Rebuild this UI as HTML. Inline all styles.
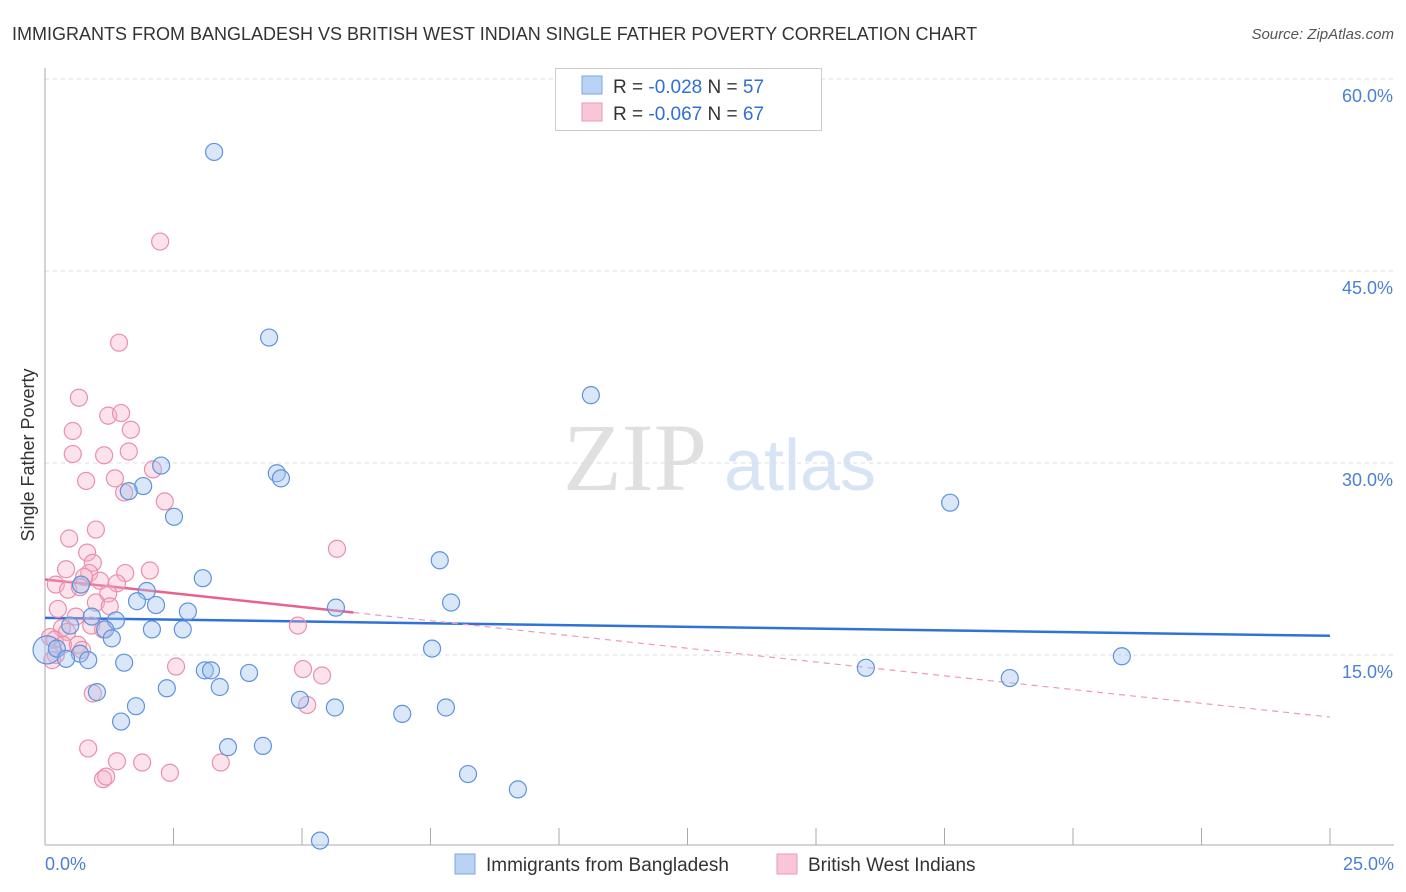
<!DOCTYPE html>
<html><head><meta charset="utf-8"><style>
body{margin:0;background:#fff;font-family:"Liberation Sans",sans-serif;}
svg{display:block}
</style></head><body>
<svg width="1406" height="892" xmlns="http://www.w3.org/2000/svg">
<text x="12" y="40" font-size="18" fill="#333">IMMIGRANTS FROM BANGLADESH VS BRITISH WEST INDIAN SINGLE FATHER POVERTY CORRELATION CHART</text>
<text x="1394" y="39" font-size="15" fill="#555" font-style="italic" text-anchor="end">Source: ZipAtlas.com</text>
<g>
<text x="635" y="490" font-size="96" fill="#e0e0e0" text-anchor="middle" font-family="Liberation Serif,serif">ZIP</text>
<text x="800" y="490" font-size="72" fill="#d6e4f5" text-anchor="middle">atlas</text>
</g>
<g id="grid"></g>
<g id="axes"></g>
<g id="trend"></g>
<g id="points"></g>
<text transform="translate(34,455) rotate(-90)" font-size="18" fill="#333" text-anchor="middle">Single Father Poverty</text>
<text x="45" y="870" font-size="18" fill="#4a7fd6">0.0%</text>
<text x="1394" y="870" font-size="18" fill="#4a7fd6" text-anchor="end">25.0%</text>
<g>
<rect x="555.5" y="68.5" width="266" height="62" fill="#fff" stroke="#ccc"/>
<rect x="582" y="76" width="20" height="18" fill="#b9d3f5" stroke="#7aa7e6"/>
<rect x="582" y="103" width="20" height="18" fill="#f9c6d6" stroke="#eb9bb5"/>
<text x="613" y="93" font-size="19" fill="#333">R = <tspan fill="#2f6fd6">-0.028</tspan>   N = <tspan fill="#2f6fd6">57</tspan></text>
<text x="613" y="120" font-size="19" fill="#333">R = <tspan fill="#2f6fd6">-0.067</tspan>   N = <tspan fill="#2f6fd6">67</tspan></text>
</g>
<g>
<rect x="455" y="854" width="20" height="20" fill="#b9d3f5" stroke="#7aa7e6"/>
<text x="486" y="871" font-size="19" fill="#333">Immigrants from Bangladesh</text>
<rect x="777" y="854" width="20" height="20" fill="#f9c6d6" stroke="#eb9bb5"/>
<text x="808" y="871" font-size="19" fill="#333">British West Indians</text>
</g>
</svg>
<script>
const yTicks=[15,30,45,60];
const yTickLabels=["15.0%","30.0%","45.0%","60.0%"];
const xTicks=[0,2.5,5,7.5,10,12.5,15,17.5,20,22.5,25];
const blueX=[3.29,4.36,10.62,4.51,4.59,2.26,1.91,1.63,2.51,17.61,7.68,3.07,0.70,1.98,1.79,2.16,7.90,5.66,2.78,1.38,0.91,0.49,2.08,2.68,1.17,1.30,7.53,0.04,0.23,0.68,0.84,0.41,1.54,15.97,20.95,18.77,3.11,3.23,3.97,3.40,2.37,1.01,4.96,1.77,5.64,7.80,6.95,1.48,3.56,4.24,8.23,9.20,5.35];
const blueY=[54.3,39.8,35.3,29.2,28.8,29.8,28.2,27.8,25.8,26.9,22.4,21.0,20.5,20.0,19.2,18.9,19.1,18.7,18.4,17.7,18.0,17.3,17.0,17.0,17.0,16.3,15.5,15.4,15.5,15.1,14.6,14.7,14.4,14.0,14.9,13.2,13.8,13.8,13.6,12.5,12.4,12.1,11.5,11.0,10.9,10.9,10.4,9.8,7.8,7.9,5.7,4.5,0.5];
const pinkX=[2.24,1.44,0.66,1.23,1.48,0.54,1.67,1.15,0.54,1.63,2.10,0.80,1.36,1.54,2.33,0.99,0.47,5.68,0.82,0.93,0.41,2.04,1.56,0.86,0.76,1.40,0.21,1.07,0.45,0.68,1.23,0.99,1.26,0.25,0.60,0.90,0.33,0.43,1.13,4.92,0.10,0.19,0.35,0.64,0.72,0.21,0.14,2.55,5.02,5.39,0.93,5.10,0.84,1.40,1.89,2.43,3.42,1.13,1.19];
const pinkY=[47.3,39.4,35.1,33.7,33.9,32.5,32.6,30.6,30.7,30.9,29.5,28.6,28.8,27.7,27.0,24.8,24.1,23.3,23.0,22.2,21.7,21.6,21.4,21.4,21.1,20.6,20.5,20.8,20.1,20.3,19.8,19.1,18.8,18.6,18.0,17.3,17.1,16.8,17.0,17.3,16.4,16.2,15.8,15.8,15.4,15.0,14.6,14.1,13.9,13.4,12.0,11.1,7.7,6.7,6.6,5.8,6.6,5.3,5.5];
const blueTrend=[17.9,-0.056];
const pinkTrend=[20.9,-0.43];
const pinkSolidEnd=6.0;
const NS="http://www.w3.org/2000/svg";
const X0=45,X1=1330,Y0=847;
function sx(v){return X0+(X1-X0)*v/25;}
function sy(v){return Y0-12.8*v;}
function mk(tag,attrs,parent){const e=document.createElementNS(NS,tag);for(const k in attrs)e.setAttribute(k,attrs[k]);document.getElementById(parent).appendChild(e);return e;}
yTicks.forEach((t,i)=>{
 const l=mk('line',{x1:X0,x2:1394,y1:sy(t),y2:sy(t),stroke:'#ddd','stroke-dasharray':'4,4'},'grid');
 
 
 const tx=mk('text',{x:1393,y:sy(t)+23,'font-size':18,fill:'#4a7fd6','text-anchor':'end'},'grid');
 tx.textContent=yTickLabels[i];
 
 
});
const ya=mk('line',{x1:X0,x2:X0,y1:68,y2:845,stroke:'#aaa'},'axes');


const xa=mk('line',{x1:X0,x2:1394,y1:845,y2:845,stroke:'#aaa'},'axes');


xTicks.forEach(t=>{
 const l=mk('line',{x1:sx(t),x2:sx(t),y1:828,y2:845,stroke:'#aaa'},'axes');
 
 
});
function pts(xs,ys,fill,stroke,name){
 xs.forEach((x,i)=>{
  const r=(x<0.1&&name==='bangladesh-point')?14:8.5;
  const c=mk('circle',{cx:sx(x),cy:sy(ys[i]),r:r,fill:fill,stroke:stroke,'stroke-width':1.2},'points');
  
  
 });
}
pts(pinkX,pinkY,'rgba(245,175,198,0.35)','#eb8fab','british-west-indian-point');
pts(blueX,blueY,'rgba(160,195,240,0.4)','#5f93de','bangladesh-point');
const bt=mk('line',{x1:sx(0),y1:sy(blueTrend[0]),x2:sx(25),y2:sy(blueTrend[0]+blueTrend[1]*25),stroke:'#2f72d8','stroke-width':2.5},'trend');


const pt=mk('line',{x1:sx(0),y1:sy(pinkTrend[0]),x2:sx(pinkSolidEnd),y2:sy(pinkTrend[0]+pinkTrend[1]*pinkSolidEnd),stroke:'#e8628e','stroke-width':2.5},'trend');


const pd=mk('line',{x1:sx(pinkSolidEnd),y1:sy(pinkTrend[0]+pinkTrend[1]*pinkSolidEnd),x2:sx(25),y2:sy(pinkTrend[0]+pinkTrend[1]*25),stroke:'#eb9bb5','stroke-width':1.2,'stroke-dasharray':'6,5'},'trend');


</script>
</body></html>
